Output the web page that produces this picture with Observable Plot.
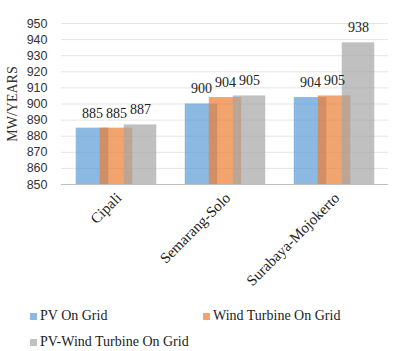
<!DOCTYPE html>
<html>
<head>
<meta charset="utf-8">
<script src="https://cdn.jsdelivr.net/npm/d3@7"></script>
<script src="https://cdn.jsdelivr.net/npm/@observablehq/plot@0.6"></script>
<style>
  body { margin: 0; background: #fff; }
  #chart { width: 398px; height: 351px; position: relative; overflow: hidden; }
  #chart svg g[aria-label="y-axis label"] text { font-family: "Liberation Serif", "Times New Roman", Times, "DejaVu Serif", serif; font-size: 14px; }
  .legend { display: grid; grid-template-columns: 173px 180px; grid-auto-rows: 26px; padding-left: 30px; margin-top: 3px;
            font-family: "Liberation Serif", "Times New Roman", Times, "DejaVu Serif", serif; font-size: 14px; color: #222; }
  .legend .item { display: flex; align-items: center; white-space: nowrap; }
  .legend .sw { width: 7px; height: 7px; margin-right: 3px; display: inline-block; }
</style>
</head>
<body>
<div id="chart"></div>
<script>
const groups = ["Cipali", "Semarang-Solo", "Surabaya-Mojokerto"];
const series = ["PV On Grid", "Wind Turbine On Grid", "PV-Wind Turbine On Grid"];
const pvOnGrid = [885, 900, 904];
const windOnGrid = [885, 904, 905];
const hybridOnGrid = [887, 905, 938];
const yTicks = [850, 860, 870, 880, 890, 900, 910, 920, 930, 940, 950];
const colors = ["#5B9BD5", "#ED7D31", "#A5A5A5"];

const seriesValues = [pvOnGrid, windOnGrid, hybridOnGrid];
const data = groups.flatMap((g, i) => series.map((s, j) => ({group: g, series: s, value: seriesValues[j][i]})));

const serif = "'Liberation Serif', 'Times New Roman', Times, 'DejaVu Serif', serif";

const chart = Plot.plot({
  width: 398,
  height: 300,
  marginTop: 23,
  marginBottom: 116,
  marginLeft: 61,
  marginRight: 10,
  style: {background: "#fff", color: "#222"},
  fx: {domain: groups, padding: 0, label: null},
  x: {domain: series, paddingInner: 0, paddingOuter: 0.724, axis: null},
  y: {domain: [850, 950], label: null},
  color: {domain: series, range: colors},
  marks: [
    Plot.gridY(yTicks, {stroke: "#e4e4e4", strokeOpacity: 1}),
    Plot.barY(data, {fx: "group", x: "series", y1: 850, y2: "value", fill: "series", fillOpacity: 0.7, insetLeft: -4.25, insetRight: -4.25}),
    Plot.text(data, {fx: "group", x: "series", y: "value", text: d => String(d.value), dy: -15, fontFamily: serif, fontSize: 14, fill: "#222"}),
    Plot.ruleY([850], {stroke: "#bfbfbf", strokeWidth: 1.2}),
    Plot.axisY(yTicks, {tickSize: 0, tickPadding: 14, fontFamily: "'Liberation Sans', Arial, sans-serif", fontSize: 12.5, label: "MW/YEARS", labelAnchor: "center", labelArrow: "none", labelOffset: 54, fill: "#333"}),
    Plot.axisFx({anchor: "bottom", tickRotate: -45, tickSize: 0, tickPadding: 11, dx: 3, fontFamily: serif, fontSize: 15, label: null, fill: "#222"})
  ]
});

const root = document.getElementById("chart");
root.appendChild(chart);

const legend = document.createElement("div");
legend.className = "legend";
series.forEach((s, j) => {
  const item = document.createElement("div");
  item.className = "item";
  const sw = document.createElement("span");
  sw.className = "sw";
  sw.style.background = colors[j];
  sw.style.opacity = 0.7;
  item.appendChild(sw);
  item.appendChild(document.createTextNode(s));
  legend.appendChild(item);
});
root.appendChild(legend);
</script>
</body>
</html>
